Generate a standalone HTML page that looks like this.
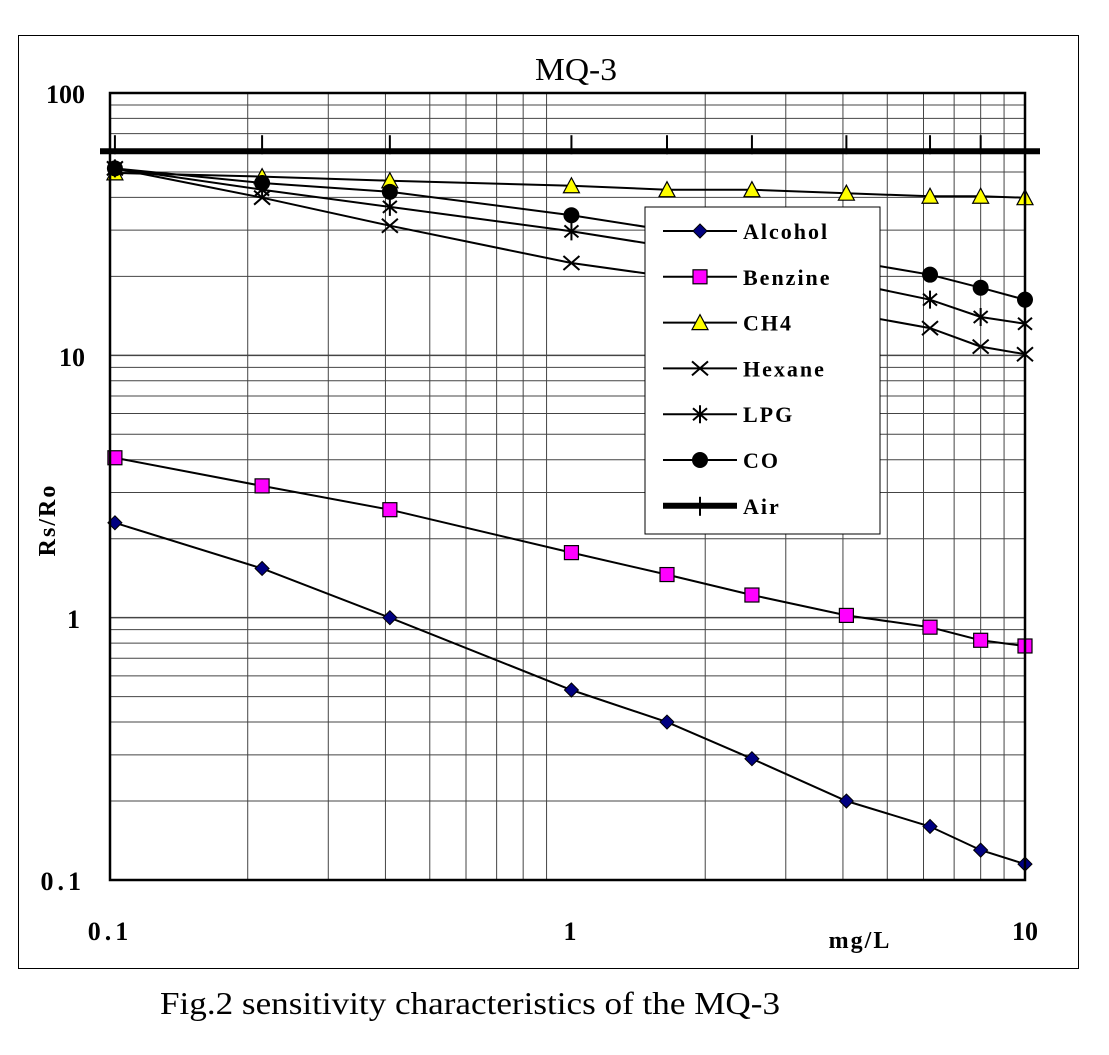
<!DOCTYPE html>
<html><head><meta charset="utf-8"><style>
body{margin:0;background:#fff}
svg text{font-family:"Liberation Serif",serif}
</style></head><body>
<svg id="chart" width="1109" height="1050" xmlns="http://www.w3.org/2000/svg">
<rect x="18.5" y="35.5" width="1060" height="933" fill="none" stroke="#000" stroke-width="1"/>
<text x="535" y="80" font-size="32" textLength="82" lengthAdjust="spacingAndGlyphs">MQ-3</text>
<g id="grid"></g>
<g id="series"></g>
<rect x="110" y="93" width="915" height="787" fill="none" stroke="#000" stroke-width="2.5"/>
<g id="legend"></g>
<text x="85" y="103" font-size="26" font-weight="bold" text-anchor="end">100</text>
<text x="85" y="366" font-size="26" font-weight="bold" text-anchor="end">10</text>
<text x="80" y="628" font-size="26" font-weight="bold" text-anchor="end">1</text>
<text x="85" y="890" font-size="26" font-weight="bold" text-anchor="end" letter-spacing="4">0.1</text>
<text x="110" y="940" font-size="26" font-weight="bold" text-anchor="middle" letter-spacing="4">0.1</text>
<text x="570" y="940" font-size="26" font-weight="bold" text-anchor="middle">1</text>
<text x="1025" y="940" font-size="26" font-weight="bold" text-anchor="middle">10</text>
<text x="860" y="948" font-size="24" font-weight="bold" text-anchor="middle" letter-spacing="2">mg/L</text>
<text transform="translate(55,520) rotate(-90)" font-size="24" font-weight="bold" text-anchor="middle" letter-spacing="2">Rs/Ro</text>
<text x="160" y="1014" font-size="32" textLength="620" lengthAdjust="spacingAndGlyphs">Fig.2 sensitivity characteristics of the MQ-3</text>
</svg>
<script>
const xVals=[0.1025,0.215,0.409,1.02,1.65,2.53,4.07,6.2,8.0,10];
const alcohol=[2.3,1.54,1.0,0.53,0.40,0.29,0.20,0.16,0.13,0.115];
const benzine=[4.07,3.18,2.58,1.77,1.46,1.22,1.02,0.92,0.82,0.78];
const ch4=[49.6,48,46.3,44.3,42.8,42.8,41.5,40.4,40.4,39.9];
const hexane=[51.6,39.9,31.2,22.5,20,17,14.5,12.7,10.8,10.1];
const lpg=[51.6,42.8,36.8,29.7,26,22,19,16.3,14,13.2];
const co=[51.6,45.4,42,34.2,30,26,23,20.3,18.1,16.3];
const air=[60,60,60,60,60,60,60,60,60,60];
const NS="http://www.w3.org/2000/svg";
const X=v=>110+457.5*Math.log10(v/0.1);
const Y=v=>880-262.33*Math.log10(v/0.1);
function mk(t,a,p){const e=document.createElementNS(NS,t);for(const k in a)e.setAttribute(k,a[k]);p.appendChild(e);return e;}
const grid=document.getElementById('grid');
for(let d=0.1;d<10;d*=10){for(let m=2;m<=9;m++){
 const l=mk('line',{x1:X(d*m),x2:X(d*m),y1:93,y2:880,stroke:'#444','stroke-width':1},grid);
 }}
for(let d=0.1;d<=100;d*=10){for(let m=1;m<=9;m++){const v=d*m;if(v>100.01)continue;
 const l=mk('line',{x1:110,x2:1025,y1:Y(v),y2:Y(v),stroke:'#444','stroke-width':m==1?1.5:1},grid);
 }}
const S=document.getElementById('series');
function marker(type,x,y,g){
 if(type=='diamond')mk('polygon',{points:`${x},${y-7} ${x+7},${y} ${x},${y+7} ${x-7},${y}`,fill:'#000080',stroke:'#000','stroke-width':1},g);
 if(type=='square')mk('rect',{x:x-7,y:y-7,width:14,height:14,fill:'#ff00ff',stroke:'#000','stroke-width':1.2},g);
 if(type=='tri')mk('polygon',{points:`${x},${y-8} ${x+8},${y+7} ${x-8},${y+7}`,fill:'#ffff00',stroke:'#000','stroke-width':1.2},g);
 if(type=='x')mk('path',{d:`M${x-8},${y-7}L${x+8},${y+7}M${x-8},${y+7}L${x+8},${y-7}`,stroke:'#000','stroke-width':2},g);
 if(type=='star')mk('path',{d:`M${x-7},${y-6}L${x+7},${y+6}M${x-7},${y+6}L${x+7},${y-6}M${x},${y-9}L${x},${y+9}`,stroke:'#000','stroke-width':2},g);
 if(type=='dot')mk('circle',{cx:x,cy:y,r:8,fill:'#000'},g);
 if(type=='plus')mk('line',{x1:x,x2:x,y1:y-16,y2:y+3,stroke:'#000','stroke-width':2},g);
}
const series=[['air',air,'plus',6],['ch4',ch4,'tri',2],['co',co,'dot',2],['lpg',lpg,'star',2],['hexane',hexane,'x',2],['benzine',benzine,'square',2],['alcohol',alcohol,'diamond',2]];
series.forEach(([n,vals,t,w])=>{
 const g=mk('g',{},S);
 let d=vals.map((v,i)=>(i?'L':'M')+X(xVals[i]).toFixed(1)+','+Y(v).toFixed(1)).join('');
 if(n=='air')d=`M100,${Y(60)}L1040,${Y(60)}`;
 const p=mk('path',{d:d,fill:'none',stroke:'#000','stroke-width':w},g);
 
 vals.forEach((v,i)=>marker(t,X(xVals[i]),Y(v),g));
});
const L=document.getElementById('legend');
const lb=mk('rect',{x:645,y:207,width:235,height:327,fill:'#fff',stroke:'#000','stroke-width':1},L);

const legendNames=['Alcohol','Benzine','CH4','Hexane','LPG','CO','Air'];
const legendTypes=['diamond','square','tri','x','star','dot','plus'];
legendNames.forEach((nm,i)=>{
 const y=231+i*45.8;
 const g=mk('g',{},L);
 mk('line',{x1:663,x2:737,y1:y,y2:y,stroke:'#000','stroke-width':nm=='Air'?6:2},g);
 marker(legendTypes[i],700,nm=='Air'?y+7:y,g);
 const t=mk('text',{x:743,y:y+8,'font-size':22,'font-weight':'bold','letter-spacing':2},g);t.textContent=nm;
});
</script>
</body></html>
